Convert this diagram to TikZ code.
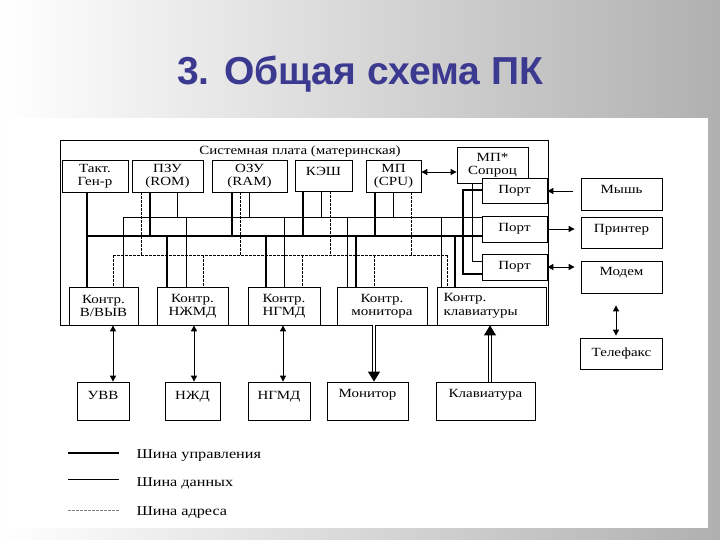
\documentclass[tikz,border=0pt]{standalone}
\usepackage{fontspec}
\setmainfont{Liberation Serif}[FakeStretch=1.2]
\newfontfamily\titlefont{Liberation Sans}
\usetikzlibrary{arrows.meta}
\definecolor{titleBlue}{HTML}{3B3990}
\definecolor{bgGrey}{HTML}{B0B0B0}
\tikzset{
  blk/.style={draw, line width=0.8pt, fill=white, align=center, inner sep=1pt,
              font=\fontsize{12.5}{13.5}\selectfont},
  uptext/.style={text depth=#1}, uptext/.default=12pt,
  ctl/.style={line width=2.4pt},
  dat/.style={line width=0.8pt},
  adr/.style={line width=0.8pt, dash pattern=on 2.5pt off 1.5pt},
  cbusl/.style={line width=1.3pt},
  dbusl/.style={line width=1pt},
  one/.style={-{Triangle[length=6pt,width=6pt]}, line width=0.9pt},
  io/.style={{Triangle[length=6pt,width=6pt]}-{Triangle[length=6pt,width=6pt]}, line width=0.9pt},
  big/.style={double, double distance=2pt, line width=0.9pt, -{Triangle[length=10pt,width=12pt]}},
  leg/.style={anchor=base west, font=\fontsize{13.5}{15}\selectfont},
}
\begin{document}
\begin{tikzpicture}[x=1pt, y=-1pt]
  \useasboundingbox (0,0) rectangle (720,540);
  \shade[left color=white, right color=bgGrey] (0,0) rectangle (720,540);
  \fill[white] (7,118) rectangle (708,528);

  \node[font=\titlefont\bfseries\fontsize{39}{40}\selectfont, text=titleBlue, anchor=base]
    (title) at (360,85) {3. Общая схема ПК};

  % system board
  \node[draw, line width=0.8pt, minimum width=488pt, minimum height=185pt] (board) at (304,232.5) {};
  \node[font=\fontsize{12.5}{14}\selectfont] (boardlbl) at (300,151) {Системная плата (материнская)};

  % top row
  \node[blk, minimum width=66pt, minimum height=32pt] (gen) at (95,176) {Такт.\\Ген-р};
  \node[blk, minimum width=71pt, minimum height=32pt] (rom) at (167.5,176) {ПЗУ\\(ROM)};
  \node[blk, minimum width=75pt, minimum height=32pt] (ram) at (249.5,176) {ОЗУ\\(RAM)};
  \node[blk, uptext=8pt, minimum width=57pt, minimum height=31pt] (cache) at (323.5,175.5) {КЭШ};
  \node[blk, minimum width=55pt, minimum height=32pt] (cpu) at (393.5,176) {МП\\(CPU)};
  \node[blk, minimum width=71pt, minimum height=36pt] (cop) at (492.5,165) {МП*\\Сопроц};

  % ports
  \node[blk, minimum width=65pt, minimum height=25pt] (p1) at (514.5,190.5) {Порт};
  \node[blk, minimum width=65pt, minimum height=26pt] (p2) at (514.5,229) {Порт};
  \node[blk, minimum width=65pt, minimum height=26pt] (p3) at (514.5,267) {Порт};

  % controllers
  \node[blk, minimum width=69pt, minimum height=38pt] (cio) at (103.5,306) {Контр.\\В/ВЫВ};
  \node[blk, minimum width=71pt, minimum height=38pt] (chdd) at (192.5,306) {Контр.\\НЖМД};
  \node[blk, minimum width=72pt, minimum height=38pt] (cfdd) at (284,306) {Контр.\\НГМД};
  \node[blk, minimum width=90pt, minimum height=38pt] (cmon) at (382,306) {Контр.\\монитора};
  \node[blk, align=left, text width=96pt, minimum width=109pt, minimum height=38pt] (ckbd) at (491.5,306) {Контр.\\клавиатуры};

  % devices
  \node[blk, uptext, minimum width=52pt, minimum height=38pt] (uvv) at (103,401) {УВВ};
  \node[blk, uptext, minimum width=55pt, minimum height=38pt] (hdd) at (192.5,401) {НЖД};
  \node[blk, uptext, minimum width=62pt, minimum height=38pt] (fdd) at (279,401) {НГМД};
  \node[blk, uptext=15pt, minimum width=81pt, minimum height=38pt] (mon) at (367.5,401) {Монитор};
  \node[blk, uptext=15pt, minimum width=99pt, minimum height=38pt] (kbd) at (485.5,401) {Клавиатура};

  \node[blk, uptext=10pt, minimum width=81pt, minimum height=32pt] (mouse) at (621.5,194) {Мышь};
  \node[blk, uptext=9pt, minimum width=81pt, minimum height=31pt] (printer) at (621.5,232.5) {Принтер};
  \node[blk, uptext=11pt, minimum width=81pt, minimum height=32pt] (modem) at (621.5,277) {Модем};
  \node[blk, minimum width=82pt, minimum height=31pt] (fax) at (621.5,353.5) {Телефакс};

  % buses
  \coordinate (dbus) at (0,218);
  \coordinate (cbus) at (0,236);
  \coordinate (abus) at (0,255);
  \draw[cbusl] (87,0 |- cbus) -- (p2.west |- cbus);
  \draw[dbusl] (123,0 |- dbus) -- (p2.west |- dbus);
  \draw[adr] (113,0 |- abus) -- (447,0 |- abus);
  \draw[ctl] (87,0 |- gen.south) -- (87,0 |- cio.north);

  \foreach \x/\n/\b/\s in {150/rom/cbus/ctl, 177/rom/dbus/dat, 141/rom/abus/adr,
      232/ram/cbus/ctl, 249/ram/dbus/dat, 240/ram/abus/adr,
      303/cache/cbus/ctl, 321/cache/dbus/dat, 330/cache/abus/adr,
      375/cpu/cbus/ctl, 393/cpu/dbus/dat, 411/cpu/abus/adr}
    \draw[\s] (\x,0 |- \n.south) -- (\x,0 |- \b);

  \foreach \x/\n/\b/\s in {123/cio/dbus/dat, 113/cio/abus/adr,
      167/chdd/cbus/ctl, 186/chdd/dbus/dat, 203/chdd/abus/adr,
      266/cfdd/cbus/ctl, 284/cfdd/dbus/dat, 302/cfdd/abus/adr,
      347/cmon/dbus/dat, 356/cmon/cbus/ctl, 374/cmon/abus/adr,
      441/ckbd/dbus/dat, 447/ckbd/abus/adr, 455/ckbd/cbus/ctl}
    \draw[\s] (\x,0 |- \b) -- (\x,0 |- \n.north);

  \draw[ctl] (p1.west |- 0,190) -| (463,274) -- (p3.west |- 0,274);
  \draw[dat] (p1.west |- 0,183) -| (472,261) -- (p3.west |- 0,261);

  % links to devices
  \draw[io] (cpu.east |- 0,172) -- (cop.west |- 0,172);
  \draw[io] (113,0 |- cio.south) -- (113,0 |- uvv.north);
  \draw[io] (194,0 |- chdd.south) -- (194,0 |- hdd.north);
  \draw[io] (283,0 |- cfdd.south) -- (283,0 |- fdd.north);
  \draw[big] (374,0 |- cmon.south) -- (374,0 |- mon.north);
  \draw[big] (490,0 |- kbd.north) -- (490,0 |- ckbd.south);
  \draw[one, shorten <=8pt] (mouse.west |- 0,191) -- (p1.east |- 0,191);
  \draw[one, shorten >=6pt] (p2.east |- 0,229) -- (printer.west |- 0,229);
  \draw[io, shorten >=6pt] (p3.east |- 0,267) -- (modem.west |- 0,267);
  \draw[io, shorten <=12pt, shorten >=2pt] (616,0 |- modem.south) -- (616,0 |- fax.north);

  % legend
  \coordinate (lg1a) at (68,453); \coordinate (lg1b) at (119,453);
  \coordinate (lg2a) at (68,479); \coordinate (lg2b) at (119,479);
  \coordinate (lg3a) at (68,510); \coordinate (lg3b) at (119,510);
  \draw[line width=2pt] (lg1a) -- (lg1b);
  \draw[dbusl] (lg2a) -- (lg2b);
  \draw[adr, line width=0.5pt, gray] (lg3a) -- (lg3b);
  \node[leg] (lgc) at (133,458) {Шина управления};
  \node[leg] (lgd) at (133,486) {Шина данных};
  \node[leg] (lga) at (133,515) {Шина адреса};
\end{tikzpicture}
\end{document}
